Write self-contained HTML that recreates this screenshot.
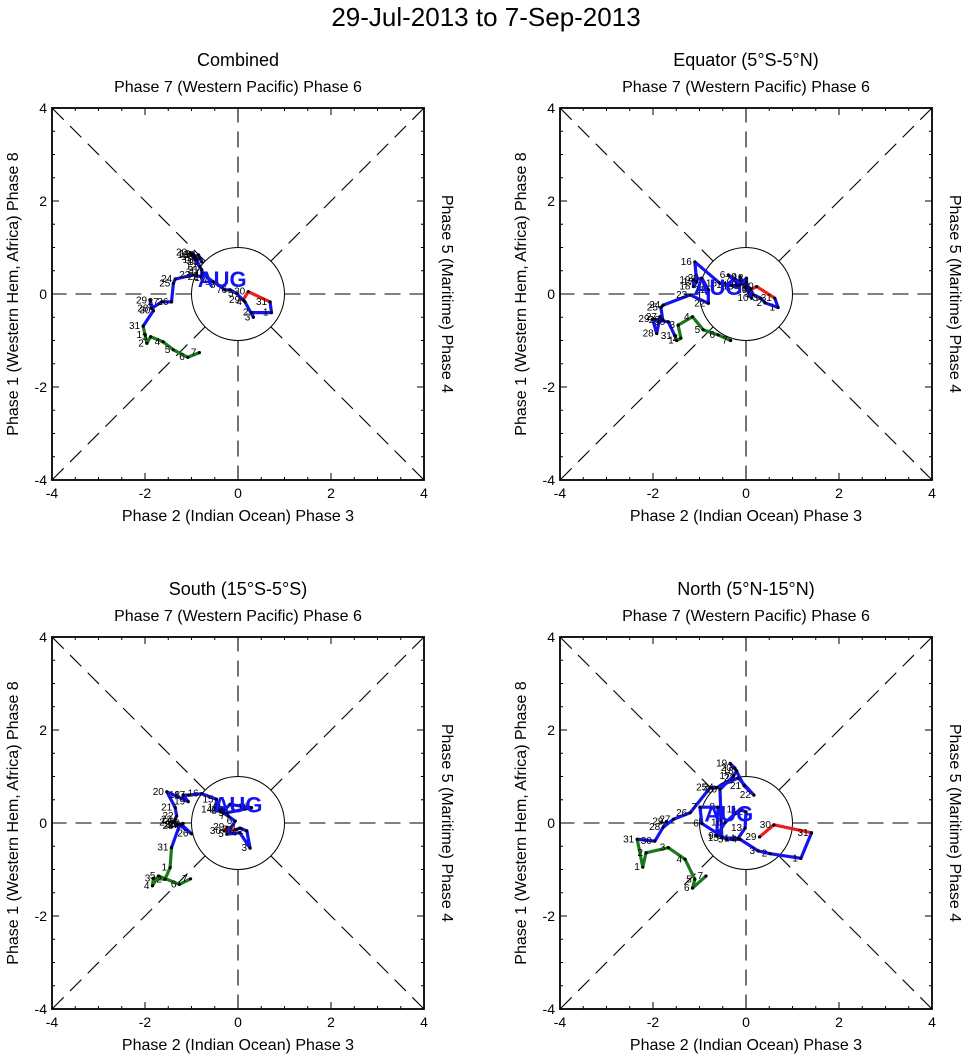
<!DOCTYPE html>
<html><head><meta charset="utf-8"><style>
html,body{margin:0;padding:0;background:#fff;}
svg{display:block;font-family:"Liberation Sans",Arial,sans-serif;}
</style></head><body>
<svg id="chart" width="971" height="1061" viewBox="0 0 971 1061" xmlns="http://www.w3.org/2000/svg">
<text x="486" y="26" font-size="26" text-anchor="middle">29-Jul-2013 to 7-Sep-2013</text>
</svg>
<script>
// ----- data (RMM1, RMM2) per panel -----
const panelTitles = ["Combined", "Equator (5°S-5°N)", "South (15°S-5°S)", "North (5°N-15°N)"];
const tickValues = [-4, -2, 0, 2, 4];
const julDays = [29, 30, 31];
const augDays = Array.from({length: 31}, (_, i) => i + 1);
const sepDays = [1, 2, 3, 4, 5, 6, 7];

const p1JulX = [0.11, 0.22, 0.69];
const p1JulY = [-0.13, 0.05, -0.17];
const p1AugX = [0.72,0.29,0.33,0.15,-0.03,-0.17,-0.28,-0.42,-0.53,-0.64,-0.75,-0.82,-0.89,-0.82,-0.78,-0.85,-0.92,-1.00,-0.96,-1.03,-0.78,-0.78,-0.96,-1.35,-1.39,-1.43,-1.64,-1.86,-1.89,-1.82,-2.04];
const p1AugY = [-0.40,-0.40,-0.50,-0.17,0.01,0.09,0.09,0.19,0.26,0.34,0.44,0.59,0.73,0.77,0.69,0.84,0.80,0.84,0.86,0.89,0.52,0.37,0.41,0.32,0.23,-0.17,-0.17,-0.31,-0.14,-0.36,-0.69];
const p1SepX = [-2.00,-1.96,-1.88,-1.61,-1.39,-1.08,-0.83];
const p1SepY = [-0.88,-1.06,-0.92,-1.03,-1.20,-1.36,-1.26];

const p2JulX = [0.09, 0.23, 0.62];
const p2JulY = [0.09, 0.16, -0.09];
const p2AugX = [0.69,0.41,0.32,0.16,0.09,-0.38,-0.27,-0.13,-0.13,0.12,0.01,0.01,-0.20,-0.34,-0.56,-1.10,-1.06,-1.13,-1.13,-0.95,-0.81,-0.81,-1.20,-1.78,-1.83,-1.79,-1.85,-1.92,-2.01,-1.67,-1.53];
const p2AugY = [-0.29,-0.19,-0.09,-0.02,0.12,0.41,0.30,0.19,0.37,-0.09,0.26,0.34,0.16,0.19,0.23,0.69,0.26,0.16,0.30,0.34,0.09,-0.20,-0.02,-0.24,-0.29,-0.56,-0.49,-0.85,-0.54,-0.60,-0.90];
const p2SepX = [-1.49,-1.40,-1.46,-1.15,-0.92,-0.60,-0.33];
const p2SepY = [-1.00,-0.95,-0.67,-0.49,-0.77,-0.88,-1.00];

const p3JulX = [-0.23, -0.30, -0.03];
const p3JulY = [-0.09, -0.17, -0.14];
const p3AugX = [0.04,0.19,0.26,0.04,-0.24,-0.06,-0.21,-0.39,-0.24,0.29,-0.17,-0.28,-0.35,-0.49,-0.46,-0.78,-1.07,-1.18,-1.07,-1.53,-1.35,-1.32,-1.35,-1.39,-1.28,-1.00,-1.21,-1.32,-1.18,-1.25,-1.43];
const p3AugY = [-0.11,-0.17,-0.54,-0.21,-0.24,0.04,0.15,0.26,0.22,0.33,0.40,0.29,0.33,0.29,0.51,0.63,0.60,0.60,0.46,0.67,0.33,0.15,0.08,0.01,-0.03,-0.23,-0.04,-0.06,-0.01,-0.03,-0.53];
const p3SepX = [-1.46,-1.57,-1.82,-1.84,-1.71,-1.26,-1.02];
const p3SepY = [-0.96,-1.21,-1.19,-1.35,-1.14,-1.32,-1.20];

const p4JulX = [0.29, 0.60, 1.41];
const p4JulY = [-0.30, -0.04, -0.21];
const p4AugX = [1.18,0.52,0.26,-0.13,-0.42,-0.95,-0.99,-0.60,-0.63,-0.45,-0.13,0.00,-0.02,-0.17,-0.52,-0.56,-0.27,-0.20,-0.34,-0.24,-0.04,0.17,-0.17,-0.63,-0.77,-1.20,-1.56,-1.78,-1.71,-1.96,-2.34];
const p4AugY = [-0.76,-0.66,-0.60,-0.35,-0.35,-0.01,0.34,0.34,-0.28,0.01,0.29,0.24,-0.11,-0.33,-0.32,0.72,1.01,1.12,1.28,1.18,0.80,0.60,0.97,0.76,0.76,0.22,0.08,-0.09,0.03,-0.39,-0.35];
const p4SepX = [-2.22,-2.15,-1.67,-1.31,-1.10,-1.15,-0.86];
const p4SepY = [-0.95,-0.64,-0.53,-0.78,-1.21,-1.40,-1.14];

const augLabelX = [-0.34, -0.6, 0.0, -0.37];
const augLabelY = [0.32, 0.15, 0.4, 0.2];

const panelsData = [
  {jx:p1JulX,jy:p1JulY,ax:p1AugX,ay:p1AugY,sx:p1SepX,sy:p1SepY},
  {jx:p2JulX,jy:p2JulY,ax:p2AugX,ay:p2AugY,sx:p2SepX,sy:p2SepY},
  {jx:p3JulX,jy:p3JulY,ax:p3AugX,ay:p3AugY,sx:p3SepX,sy:p3SepY},
  {jx:p4JulX,jy:p4JulY,ax:p4AugX,ay:p4AugY,sx:p4SepX,sy:p4SepY}
];

// ----- drawing -----
const NS = "http://www.w3.org/2000/svg";
const svg = document.getElementById("chart");
function mk(tag, attrs, parent, text) {
  const e = document.createElementNS(NS, tag);
  for (const k in attrs) e.setAttribute(k, attrs[k]);
  if (text !== undefined) e.textContent = text;
  (parent || svg).appendChild(e);
  return e;
}
const origins = [[52,108],[560,108],[52,637],[560,637]];
const SIZE = 372;
const names = ["combined","equator","south","north"];

panelsData.forEach((d, pi) => {
  const [x0, y0] = origins[pi];
  const sx = v => x0 + (v + 4) / 8 * SIZE;
  const sy = v => y0 + (4 - v) / 8 * SIZE;
  const g = mk("g", {});
  
  
  const cx = sx(0), cy = sy(0), r = sx(1) - sx(0);

  const dashes = [[-4,-4],[4,4],[-4,4],[4,-4],[-4,0],[4,0],[0,-4],[0,4]];
  dashes.forEach(([ex, ey]) => {
    const len = Math.hypot(ex, ey);
    const ux = ex / len, uy = ey / len;
    const ln = mk("line", {x1: sx(ux), y1: sy(uy), x2: sx(ex), y2: sy(ey), stroke: "#000", "stroke-width": 1.1, "stroke-dasharray": "16,9"}, g);
    
    
  });
  const circ = mk("circle", {cx: cx, cy: cy, r: r, fill: "none", stroke: "#000", "stroke-width": 1}, g);
  
  

  const fr = mk("rect", {x: x0, y: y0, width: SIZE, height: SIZE, fill: "none", stroke: "#000", "stroke-width": 1.8}, g);
  
  

  tickValues.forEach(t => {
    mk("line", {x1: sx(t), y1: y0 + SIZE, x2: sx(t), y2: y0 + SIZE - 7, stroke: "#000"}, g);
    mk("line", {x1: sx(t), y1: y0, x2: sx(t), y2: y0 + 7, stroke: "#000"}, g);
    mk("line", {x1: x0, y1: sy(t), x2: x0 + 7, y2: sy(t), stroke: "#000"}, g);
    mk("line", {x1: x0 + SIZE, y1: sy(t), x2: x0 + SIZE - 7, y2: sy(t), stroke: "#000"}, g);
    const xl = mk("text", {x: sx(t), y: y0 + SIZE + 18, "font-size": 14, "text-anchor": "middle"}, g, String(t));
    
    
    const yl = mk("text", {x: x0 - 5, y: sy(t) + 5, "font-size": 14, "text-anchor": "end"}, g, String(t));
    
    
  });
  for (let t = -4; t <= 4; t += 0.5) {
    if (t % 2 === 0) continue;
    mk("line", {x1: sx(t), y1: y0 + SIZE, x2: sx(t), y2: y0 + SIZE - 3, stroke: "#000"}, g);
    mk("line", {x1: sx(t), y1: y0, x2: sx(t), y2: y0 + 3, stroke: "#000"}, g);
    mk("line", {x1: x0, y1: sy(t), x2: x0 + 3, y2: sy(t), stroke: "#000"}, g);
    mk("line", {x1: x0 + SIZE, y1: sy(t), x2: x0 + SIZE - 3, y2: sy(t), stroke: "#000"}, g);
  }

  const pt = mk("text", {x: x0 + SIZE / 2, y: y0 - 42, "font-size": 18, "text-anchor": "middle"}, g, panelTitles[pi]);
  
  
  const tl = mk("text", {x: x0 + SIZE / 2, y: y0 - 16, "font-size": 16, "text-anchor": "middle"}, g, "Phase 7 (Western Pacific) Phase 6");
  
  
  const bl = mk("text", {x: x0 + SIZE / 2, y: y0 + SIZE + 41, "font-size": 16, "text-anchor": "middle"}, g, "Phase 2 (Indian Ocean) Phase 3");
  
  
  const ll = mk("text", {x: 0, y: 0, "font-size": 16, "text-anchor": "middle", transform: `translate(${x0 - 34},${y0 + SIZE / 2}) rotate(-90)`}, g, "Phase 1 (Western Hem, Africa) Phase 8");
  
  
  const rl = mk("text", {x: 0, y: 0, "font-size": 16, "text-anchor": "middle", transform: `translate(${x0 + SIZE + 18},${y0 + SIZE / 2}) rotate(90)`}, g, "Phase 5 (Maritime) Phase 4");
  
  

  const series = [
    {xs: d.jx, ys: d.jy, days: julDays, color: "#ee1c1c", name: "july"},
    {xs: d.ax, ys: d.ay, days: augDays, color: "#1414f0", name: "august"},
    {xs: d.sx, ys: d.sy, days: sepDays, color: "#1a7a1a", name: "september"}
  ];
  series.forEach((s, si) => {
    let pts = s.xs.map((v, i) => sx(v) + "," + sy(s.ys[i]));
    if (si > 0) {
      const prev = series[si - 1];
      const n = prev.xs.length - 1;
      pts = [sx(prev.xs[n]) + "," + sy(prev.ys[n])].concat(pts);
    }
    const pl = mk("polyline", {points: pts.join(" "), fill: "none", stroke: s.color, "stroke-width": 3.2, "stroke-linejoin": "round"}, g);
    
    
  });
  series.forEach(s => {
    s.xs.forEach((v, i) => {
      const dot = mk("circle", {cx: sx(v), cy: sy(s.ys[i]), r: 1.6, fill: "#000"}, g);
      
      
      const lb = mk("text", {x: sx(v) - 3, y: sy(s.ys[i]) + 3, "font-size": 10, "text-anchor": "end"}, g, String(s.days[i]));
      
      
    });
  });
  const al = mk("text", {x: sx(augLabelX[pi]), y: sy(augLabelY[pi]) + 8, "font-size": 22, "font-weight": "bold", fill: "#1414f0", "text-anchor": "middle"}, g, "AUG");
  
  
});
</script>
</body></html>
